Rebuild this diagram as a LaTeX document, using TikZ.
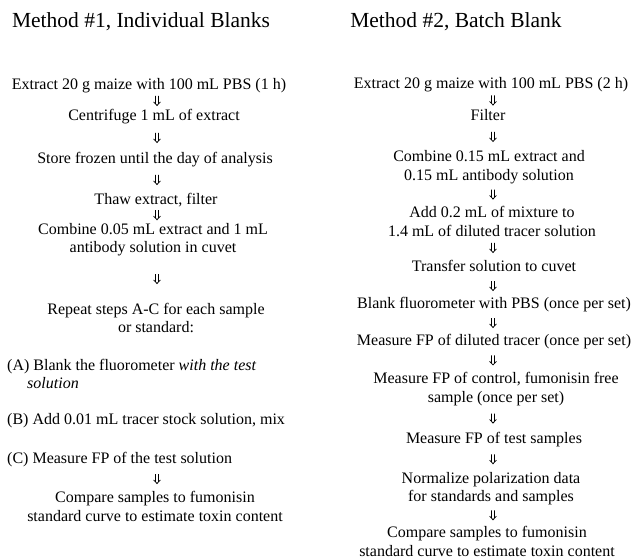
\documentclass[tikz,border=0pt]{standalone}
\usepackage{fontspec}
\setmainfont{Liberation Serif}
\usetikzlibrary{calc}
\begin{document}
\begin{tikzpicture}[x=1pt,y=-1pt,
  txt/.style={inner sep=0pt, align=center, font=\fontsize{16}{18.5}\selectfont},
  one/.style={txt, text height=11pt, text depth=4pt},
  lft/.style={inner sep=0pt, align=left, anchor=west, font=\fontsize{16}{18.5}\selectfont, text height=11pt, text depth=4pt},
  ttl/.style={inner sep=0pt, font=\fontsize{21.5}{24}\selectfont},
  flow/.style={line width=0.75pt, line cap=butt,
    to path={let \p1=($(\tikztostart)!0.5!(\tikztotarget)$) in
      (\x1-1.5pt,\y1+5.5pt) -- (\x1-1.5pt,\y1-2.2pt)
      (\x1+1.5pt,\y1+5.5pt) -- (\x1+1.5pt,\y1-2.2pt)
      (\x1-3.4pt,\y1-0.4pt) -- (\x1,\y1-4pt) -- (\x1+3.4pt,\y1-0.4pt)}}
]
\useasboundingbox (0,0) rectangle (632,559);
\coordinate (AL) at (157,0);
\coordinate (AR) at (493,0);

% Method 1
\node[ttl] (t1) at (141,22) {Method \#1, Individual Blanks};
\node[one] (L1) at (149,86) {Extract 20 g maize with 100 mL PBS (1 h)};
\node[one] (L2) at (154,117) {Centrifuge 1 mL of extract};
\node[one] (L3) at (155,160) {Store frozen until the day of analysis};
\node[one] (L4) at (156,201) {Thaw extract, filter};
\node[txt] (L5) at (153,239.5) {Combine 0.05 mL extract and 1 mL\\antibody solution in cuvet};
\node[txt] (L6) at (156,318) {Repeat steps A-C for each sample\\or standard:};
\node[inner sep=0pt, align=left, anchor=west, font=\fontsize{16}{18.5}\selectfont] (LA) at (7,374) {(A) Blank the fluorometer \textit{with the test}\\\hspace*{20pt}\textit{solution}};
\node[lft] (LB) at (7,421) {(B) Add 0.01 mL tracer stock solution, mix};
\node[lft] (LC) at (7,460) {(C) Measure FP of the test solution};
\node[txt] (L7) at (155,506.5) {Compare samples to fumonisin\\standard curve to estimate toxin content};

\draw[flow] (L1.south -| AL) to (L2.north -| AL);
\draw[flow] (L2.south -| AL) to (L3.north -| AL);
\draw[flow] (L3.south -| AL) to (L4.north -| AL);
\draw[flow] (L4.south -| AL) to (L5.north -| AL);
\draw[flow] (L5.south -| AL) to (L6.north -| AL);
\draw[flow] (LC.south -| AL) to (L7.north -| AL);

% Method 2
\node[ttl] (t2) at (456,22) {Method \#2, Batch Blank};
\node[one] (R1) at (491,85) {Extract 20 g maize with 100 mL PBS (2 h)};
\node[one] (R2) at (488,117) {Filter};
\node[txt] (R3) at (489,167) {Combine 0.15 mL extract and\\0.15 mL antibody solution};
\node[txt] (R4) at (492,221.5) {Add 0.2 mL of mixture to\\1.4 mL of diluted tracer solution};
\node[one] (R5) at (494,268) {Transfer solution to cuvet};
\node[one] (R6) at (494,305) {Blank fluorometer with PBS (once per set)};
\node[one] (R7) at (494,342) {Measure FP of diluted tracer (once per set)};
\node[txt] (R8) at (496,389) {Measure FP of control, fumonisin free\\sample (once per set)};
\node[one] (R9) at (494,440) {Measure FP of test samples};
\node[txt] (R10) at (491,488.5) {Normalize polarization data\\for standards and samples};
\node[txt] (R11) at (487,541.5) {Compare samples to fumonisin\\standard curve to estimate toxin content};

\draw[flow] (R1.south -| AR) to (R2.north -| AR);
\draw[flow] (R2.south -| AR) to (R3.north -| AR);
\draw[flow] (R3.south -| AR) to (R4.north -| AR);
\draw[flow] (R4.south -| AR) to (R5.north -| AR);
\draw[flow] (R5.south -| AR) to (R6.north -| AR);
\draw[flow] (R6.south -| AR) to (R7.north -| AR);
\draw[flow] (R7.south -| AR) to (R8.north -| AR);
\draw[flow] (R8.south -| AR) to (R9.north -| AR);
\draw[flow] (R9.south -| AR) to (R10.north -| AR);
\draw[flow] (R10.south -| AR) to (R11.north -| AR);
\end{tikzpicture}
\end{document}
